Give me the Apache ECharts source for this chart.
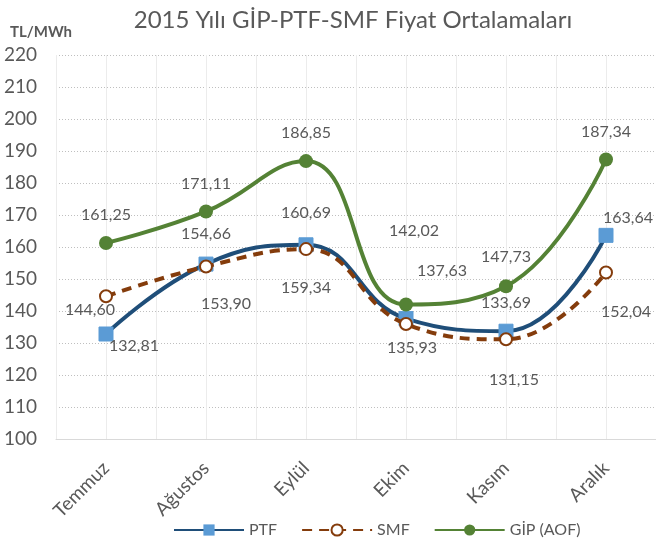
<!DOCTYPE html>
<html>
<head>
<meta charset="utf-8">
<script src="https://cdn.jsdelivr.net/npm/echarts@6/dist/echarts.min.js"></script>
<style>
  html, body { margin: 0; padding: 0; background: #fff; }
  #chart { width: 656px; height: 547px; }
</style>
</head>
<body>
<div id="chart"></div>
<script>
// aylar ve seriler
var months = ['Temmuz', 'Ağustos', 'Eylül', 'Ekim', 'Kasım', 'Aralık'];
var ptf = [132.81, 154.66, 160.69, 137.63, 133.69, 163.64];
var smf = [144.60, 153.90, 159.34, 135.93, 131.15, 152.04];
var gip = [161.25, 171.11, 186.85, 142.02, 147.73, 187.34];

// etiket kaydirmalari (x, y) - sadece gorunum
var ptfOffsets = [[28, 12], [0, -30], [0, -32], [36, -48], [0, -28], [22, -18]];
var smfOffsets = [[-16, 14], [20, 37], [0, 39], [6, 24], [8, 41], [20, 39]];
var gipOffsets = [[0, -28], [0, -28], [0, -28], [8, -74], [0, -29], [0, -28]];

var grey = '#595959';
var font = 'Lato';

function fmt(v) {
    return v.toFixed(2).replace('.', ',');
}

function buildData(values, offsets) {
    var out = [];
    for (var i = 0; i < values.length; i++) {
        out.push({
            value: values[i],
            label: { offset: offsets[i] }
        });
    }
    return out;
}

var labelStyle = {
    show: true,
    position: 'inside',
    color: grey,
    fontSize: 16,
    fontFamily: font,
    formatter: function (p) { return fmt(p.value); }
};

var chart = echarts.init(document.getElementById('chart'));
var option = {
    animation: false,
    title: {
        text: '2015 Yılı GİP-PTF-SMF Fiyat Ortalamaları',
        left: 348,
        textAlign: 'center',
        top: 3,
        textStyle: { color: grey, fontSize: 24, fontWeight: 'normal', fontFamily: font }
    },
    graphic: [{
        type: 'text',
        left: 10,
        top: 25,
        style: { text: 'TL/MWh', fill: grey, font: 'bold 15px ' + font }
    }],
    legend: {
        bottom: 4,
        left: 168,
        itemWidth: 70,
        itemHeight: 14,
        itemGap: 24,
        textStyle: { color: grey, fontSize: 16, fontFamily: font },
        data: ['PTF', 'SMF', 'GİP (AOF)']
    },
    grid: { left: 56, right: 0, top: 55, bottom: 108 },
    xAxis: [{
        type: 'category',
        data: months,
        axisLine: { lineStyle: { color: '#d9d9d9', width: 1 } },
        axisTick: { show: false },
        axisLabel: { rotate: 45, color: grey, fontSize: 19, fontFamily: font, margin: 26 },
        splitLine: { show: false }
    }, {
        type: 'category',
        data: ['', '', '', '', '', '', '', '', '', '', '', ''],
        position: 'bottom',
        axisLine: { show: false },
        axisTick: { show: false },
        axisLabel: { show: false },
        splitLine: { show: true, lineStyle: { color: '#ececec', width: 1 } }
    }],
    yAxis: {
        type: 'value',
        min: 100,
        max: 220,
        interval: 10,
        axisLine: { show: false },
        axisTick: { show: false },
        axisLabel: { color: grey, fontSize: 19, fontFamily: font, margin: 19 },
        splitLine: { lineStyle: { color: '#bfbfbf', type: [1, 2], width: 1 } }
    },
    series: [{
        name: 'PTF',
        type: 'line',
        smooth: 0.45,
        data: buildData(ptf, ptfOffsets),
        symbol: 'rect',
        symbolSize: 14,
        lineStyle: { color: '#1f4e79', width: 4 },
        itemStyle: { color: '#5b9bd5', borderColor: '#5b9bd5' },
        label: labelStyle,
        z: 3
    }, {
        name: 'SMF',
        type: 'line',
        smooth: 0.45,
        data: buildData(smf, smfOffsets),
        symbol: 'circle',
        symbolSize: 12,
        showAllSymbol: true,
        lineStyle: { color: '#843c0c', width: 4, type: [10, 7] },
        itemStyle: { color: '#ffffff', borderColor: '#843c0c', borderWidth: 2 },
        label: labelStyle,
        z: 4
    }, {
        name: 'GİP (AOF)',
        type: 'line',
        smooth: 0.45,
        data: buildData(gip, gipOffsets),
        symbol: 'circle',
        symbolSize: 14,
        lineStyle: { color: '#548235', width: 4 },
        itemStyle: { color: '#548235' },
        label: labelStyle,
        z: 5
    }]
};
chart.setOption(option);
</script>
</body>
</html>
